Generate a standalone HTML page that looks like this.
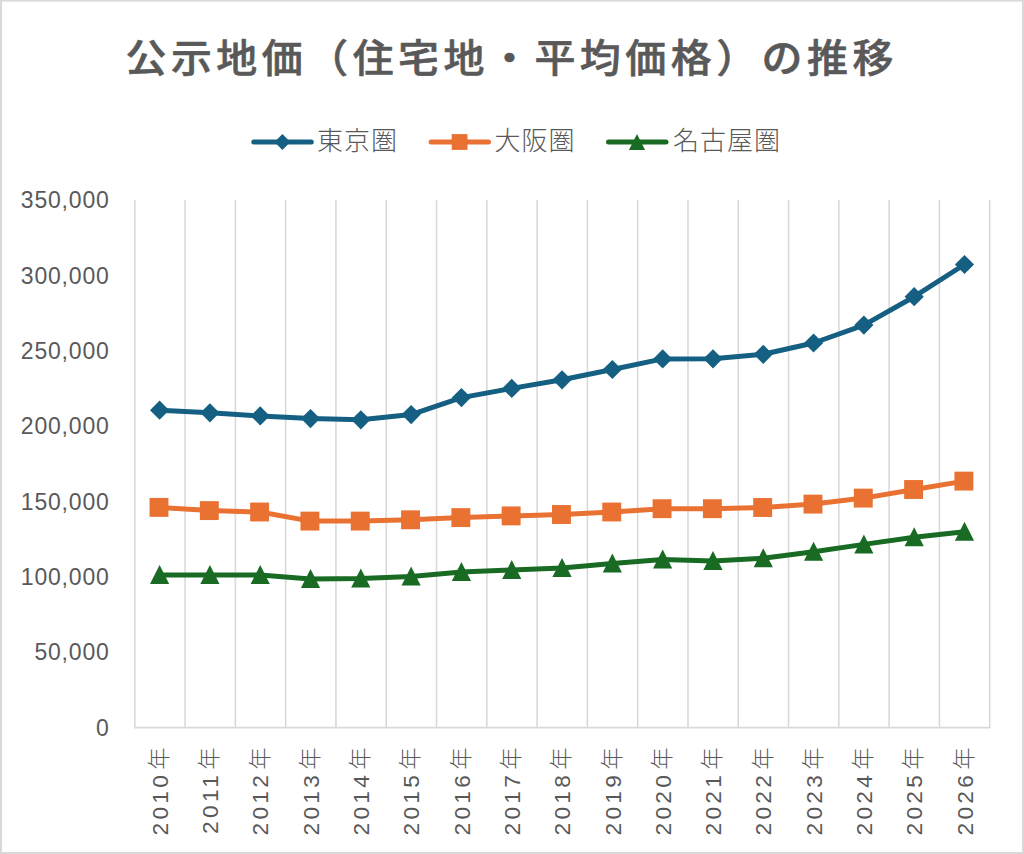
<!DOCTYPE html>
<html lang="ja">
<head>
<meta charset="utf-8">
<title>公示地価（住宅地・平均価格）の推移</title>
<style>
html,body{margin:0;padding:0;background:#fff;}
body{width:1024px;height:854px;overflow:hidden;}
svg{display:block;}
text{font-family:"Liberation Sans","Noto Sans CJK JP",sans-serif;fill:#595959;}
.title{font-weight:500;font-size:39px;letter-spacing:4.29px;stroke:#595959;stroke-width:0.6px;stroke-linejoin:round;}
.leg{font-weight:300;font-size:26px;letter-spacing:1px;}
.yl{font-size:23px;letter-spacing:0.8px;text-anchor:end;}
.xl{font-size:22.6px;letter-spacing:3.4px;text-anchor:end;font-weight:300;}
</style>
</head>
<body>
<svg width="1024" height="854" viewBox="0 0 1024 854">
<rect x="0" y="0" width="1024" height="854" fill="#fff"/>
<g fill="#d9d9d9"><rect x="0" y="0" width="1024" height="1.6"/><rect x="0" y="852" width="1024" height="2"/><rect x="0" y="0" width="2" height="854"/><rect x="1022" y="0" width="2" height="854"/></g>
<g stroke="#d9d9d9" stroke-width="1.6" fill="none">
<line x1="134.8" y1="200" x2="134.8" y2="727.65"/>
<line x1="185.09" y1="200" x2="185.09" y2="727.65"/>
<line x1="235.38" y1="200" x2="235.38" y2="727.65"/>
<line x1="285.66" y1="200" x2="285.66" y2="727.65"/>
<line x1="335.95" y1="200" x2="335.95" y2="727.65"/>
<line x1="386.24" y1="200" x2="386.24" y2="727.65"/>
<line x1="436.53" y1="200" x2="436.53" y2="727.65"/>
<line x1="486.82" y1="200" x2="486.82" y2="727.65"/>
<line x1="537.11" y1="200" x2="537.11" y2="727.65"/>
<line x1="587.39" y1="200" x2="587.39" y2="727.65"/>
<line x1="637.68" y1="200" x2="637.68" y2="727.65"/>
<line x1="687.97" y1="200" x2="687.97" y2="727.65"/>
<line x1="738.26" y1="200" x2="738.26" y2="727.65"/>
<line x1="788.55" y1="200" x2="788.55" y2="727.65"/>
<line x1="838.84" y1="200" x2="838.84" y2="727.65"/>
<line x1="889.12" y1="200" x2="889.12" y2="727.65"/>
<line x1="939.41" y1="200" x2="939.41" y2="727.65"/>
<line x1="989.7" y1="200" x2="989.7" y2="727.65"/>
<line x1="134" y1="727.65" x2="990.5" y2="727.65"/>
</g>
<text class="title" transform="translate(511.7 72.2) scale(1.05 1)" text-anchor="middle">公示地価（住宅地・平均価格）の推移</text>
<line x1="253.8" y1="142.0" x2="311.3" y2="142.0" stroke="#156082" stroke-width="5.0" stroke-linecap="round"/>
<path d="M282.4 134.1L290.3 142L282.4 149.9L274.5 142Z" fill="#156082"/>
<text class="leg" x="317" y="149.5">東京圏</text>
<line x1="431.1" y1="142.0" x2="488.5" y2="142.0" stroke="#e97132" stroke-width="5.0" stroke-linecap="round"/>
<rect x="451.7" y="134.1" width="15.8" height="15.8" fill="#e97132"/>
<text class="leg" x="494.5" y="149.5">大阪圏</text>
<line x1="608.5" y1="142.0" x2="666" y2="142.0" stroke="#196b24" stroke-width="5.0" stroke-linecap="round"/>
<path d="M637 133.9L645.1 150.1L628.9 150.1Z" fill="#196b24"/>
<text class="leg" x="673" y="149.5">名古屋圏</text>
<text class="yl" x="109.6" y="208.2">350,000</text>
<text class="yl" x="109.6" y="283.58">300,000</text>
<text class="yl" x="109.6" y="358.96">250,000</text>
<text class="yl" x="109.6" y="434.34">200,000</text>
<text class="yl" x="109.6" y="509.71">150,000</text>
<text class="yl" x="109.6" y="585.09">100,000</text>
<text class="yl" x="109.6" y="660.47">50,000</text>
<text class="yl" x="109.6" y="735.85">0</text>
<text class="xl" transform="translate(167.8 744) rotate(-90)">2010<tspan font-size="22.3" dx="2" dy="-0.9">年</tspan></text>
<text class="xl" transform="translate(218.11 744) rotate(-90)">2011<tspan font-size="22.3" dx="2" dy="-0.9">年</tspan></text>
<text class="xl" transform="translate(268.41 744) rotate(-90)">2012<tspan font-size="22.3" dx="2" dy="-0.9">年</tspan></text>
<text class="xl" transform="translate(318.72 744) rotate(-90)">2013<tspan font-size="22.3" dx="2" dy="-0.9">年</tspan></text>
<text class="xl" transform="translate(369.02 744) rotate(-90)">2014<tspan font-size="22.3" dx="2" dy="-0.9">年</tspan></text>
<text class="xl" transform="translate(419.33 744) rotate(-90)">2015<tspan font-size="22.3" dx="2" dy="-0.9">年</tspan></text>
<text class="xl" transform="translate(469.64 744) rotate(-90)">2016<tspan font-size="22.3" dx="2" dy="-0.9">年</tspan></text>
<text class="xl" transform="translate(519.94 744) rotate(-90)">2017<tspan font-size="22.3" dx="2" dy="-0.9">年</tspan></text>
<text class="xl" transform="translate(570.25 744) rotate(-90)">2018<tspan font-size="22.3" dx="2" dy="-0.9">年</tspan></text>
<text class="xl" transform="translate(620.55 744) rotate(-90)">2019<tspan font-size="22.3" dx="2" dy="-0.9">年</tspan></text>
<text class="xl" transform="translate(670.86 744) rotate(-90)">2020<tspan font-size="22.3" dx="2" dy="-0.9">年</tspan></text>
<text class="xl" transform="translate(721.17 744) rotate(-90)">2021<tspan font-size="22.3" dx="2" dy="-0.9">年</tspan></text>
<text class="xl" transform="translate(771.47 744) rotate(-90)">2022<tspan font-size="22.3" dx="2" dy="-0.9">年</tspan></text>
<text class="xl" transform="translate(821.78 744) rotate(-90)">2023<tspan font-size="22.3" dx="2" dy="-0.9">年</tspan></text>
<text class="xl" transform="translate(872.08 744) rotate(-90)">2024<tspan font-size="22.3" dx="2" dy="-0.9">年</tspan></text>
<text class="xl" transform="translate(922.39 744) rotate(-90)">2025<tspan font-size="22.3" dx="2" dy="-0.9">年</tspan></text>
<text class="xl" transform="translate(972.7 744) rotate(-90)">2026<tspan font-size="22.3" dx="2" dy="-0.9">年</tspan></text>
<polyline points="159.6,575.1 209.91,575.1 260.21,575.1 310.52,579 360.82,578.6 411.13,576.6 461.44,572 511.74,570 562.05,567.9 612.35,563.4 662.66,559.5 712.97,560.9 763.27,558.3 813.58,551.8 863.88,544.4 914.19,537.3 964.5,531.7" fill="none" stroke="#196b24" stroke-width="5.0" stroke-linejoin="round" stroke-linecap="round"/>
<path d="M159.6 565.1L169.2 584.1L150 584.1Z" fill="#196b24"/>
<path d="M209.91 565.1L219.51 584.1L200.31 584.1Z" fill="#196b24"/>
<path d="M260.21 565.1L269.81 584.1L250.61 584.1Z" fill="#196b24"/>
<path d="M310.52 569L320.12 588L300.92 588Z" fill="#196b24"/>
<path d="M360.82 568.6L370.42 587.6L351.22 587.6Z" fill="#196b24"/>
<path d="M411.13 566.6L420.73 585.6L401.53 585.6Z" fill="#196b24"/>
<path d="M461.44 562L471.04 581L451.84 581Z" fill="#196b24"/>
<path d="M511.74 560L521.34 579L502.14 579Z" fill="#196b24"/>
<path d="M562.05 557.9L571.65 576.9L552.45 576.9Z" fill="#196b24"/>
<path d="M612.35 553.4L621.95 572.4L602.75 572.4Z" fill="#196b24"/>
<path d="M662.66 549.5L672.26 568.5L653.06 568.5Z" fill="#196b24"/>
<path d="M712.97 550.9L722.57 569.9L703.37 569.9Z" fill="#196b24"/>
<path d="M763.27 548.3L772.87 567.3L753.67 567.3Z" fill="#196b24"/>
<path d="M813.58 541.8L823.18 560.8L803.98 560.8Z" fill="#196b24"/>
<path d="M863.88 534.4L873.48 553.4L854.28 553.4Z" fill="#196b24"/>
<path d="M914.19 527.3L923.79 546.3L904.59 546.3Z" fill="#196b24"/>
<path d="M964.5 521.7L974.1 540.7L954.9 540.7Z" fill="#196b24"/>
<polyline points="159.6,507.4 209.91,510.6 260.21,512 310.52,521.1 360.82,521.1 411.13,519.8 461.44,517.6 511.74,515.9 562.05,514.5 612.35,512 662.66,508.7 712.97,508.7 763.27,507.5 813.58,504.1 863.88,498.1 914.19,489.5 964.5,481.1" fill="none" stroke="#e97132" stroke-width="5.0" stroke-linejoin="round" stroke-linecap="round"/>
<rect x="149.55" y="497.95" width="18.9" height="18.9" fill="#e97132"/>
<rect x="199.86" y="501.15" width="18.9" height="18.9" fill="#e97132"/>
<rect x="250.16" y="502.55" width="18.9" height="18.9" fill="#e97132"/>
<rect x="300.47" y="511.65" width="18.9" height="18.9" fill="#e97132"/>
<rect x="350.77" y="511.65" width="18.9" height="18.9" fill="#e97132"/>
<rect x="401.08" y="510.35" width="18.9" height="18.9" fill="#e97132"/>
<rect x="451.39" y="508.15" width="18.9" height="18.9" fill="#e97132"/>
<rect x="501.69" y="506.45" width="18.9" height="18.9" fill="#e97132"/>
<rect x="552" y="505.05" width="18.9" height="18.9" fill="#e97132"/>
<rect x="602.3" y="502.55" width="18.9" height="18.9" fill="#e97132"/>
<rect x="652.61" y="499.25" width="18.9" height="18.9" fill="#e97132"/>
<rect x="702.92" y="499.25" width="18.9" height="18.9" fill="#e97132"/>
<rect x="753.22" y="498.05" width="18.9" height="18.9" fill="#e97132"/>
<rect x="803.53" y="494.65" width="18.9" height="18.9" fill="#e97132"/>
<rect x="853.83" y="488.65" width="18.9" height="18.9" fill="#e97132"/>
<rect x="904.14" y="480.05" width="18.9" height="18.9" fill="#e97132"/>
<rect x="954.45" y="471.65" width="18.9" height="18.9" fill="#e97132"/>
<polyline points="159.6,410.2 209.91,412.8 260.21,415.9 310.52,418.6 360.82,419.8 411.13,414.6 461.44,397.6 511.74,388.4 562.05,379.8 612.35,369.5 662.66,358.9 712.97,358.8 763.27,354.3 813.58,343 863.88,325.1 914.19,296.7 964.5,264.5" fill="none" stroke="#156082" stroke-width="5.0" stroke-linejoin="round" stroke-linecap="round"/>
<path d="M159.6 400.6L169.2 410.2L159.6 419.8L150 410.2Z" fill="#156082"/>
<path d="M209.91 403.2L219.51 412.8L209.91 422.4L200.31 412.8Z" fill="#156082"/>
<path d="M260.21 406.3L269.81 415.9L260.21 425.5L250.61 415.9Z" fill="#156082"/>
<path d="M310.52 409L320.12 418.6L310.52 428.2L300.92 418.6Z" fill="#156082"/>
<path d="M360.82 410.2L370.42 419.8L360.82 429.4L351.22 419.8Z" fill="#156082"/>
<path d="M411.13 405L420.73 414.6L411.13 424.2L401.53 414.6Z" fill="#156082"/>
<path d="M461.44 388L471.04 397.6L461.44 407.2L451.84 397.6Z" fill="#156082"/>
<path d="M511.74 378.8L521.34 388.4L511.74 398L502.14 388.4Z" fill="#156082"/>
<path d="M562.05 370.2L571.65 379.8L562.05 389.4L552.45 379.8Z" fill="#156082"/>
<path d="M612.35 359.9L621.95 369.5L612.35 379.1L602.75 369.5Z" fill="#156082"/>
<path d="M662.66 349.3L672.26 358.9L662.66 368.5L653.06 358.9Z" fill="#156082"/>
<path d="M712.97 349.2L722.57 358.8L712.97 368.4L703.37 358.8Z" fill="#156082"/>
<path d="M763.27 344.7L772.87 354.3L763.27 363.9L753.67 354.3Z" fill="#156082"/>
<path d="M813.58 333.4L823.18 343L813.58 352.6L803.98 343Z" fill="#156082"/>
<path d="M863.88 315.5L873.48 325.1L863.88 334.7L854.28 325.1Z" fill="#156082"/>
<path d="M914.19 287.1L923.79 296.7L914.19 306.3L904.59 296.7Z" fill="#156082"/>
<path d="M964.5 254.9L974.1 264.5L964.5 274.1L954.9 264.5Z" fill="#156082"/>
</svg>
</body>
</html>
